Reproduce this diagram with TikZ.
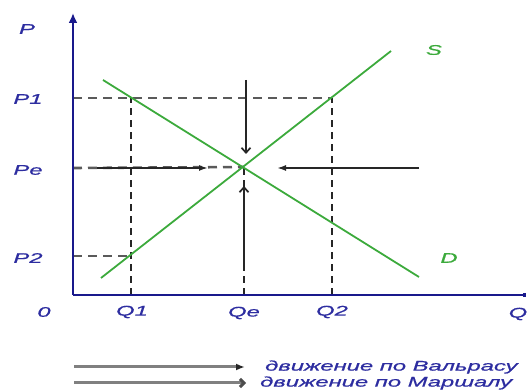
\documentclass[tikz,border=0pt]{standalone}
\usepackage{fontspec}
\newfontfamily\labfont{Liberation Sans}[FakeStretch=1.7,FakeBold=0.8]
\usetikzlibrary{arrows.meta}
\definecolor{axisblue}{RGB}{25,25,140}
\definecolor{labblue}{RGB}{45,45,160}
\definecolor{sdgreen}{RGB}{60,170,60}
\definecolor{dashgray}{RGB}{90,90,90}
\tikzset{
  lab/.style={text=labblue, font=\labfont\itshape\fontsize{14}{14}\selectfont, inner sep=0pt},
  glab/.style={lab, text=sdgreen},
  axisline/.style={draw=axisblue, line width=2pt},
  curve/.style={draw=sdgreen, line width=1.8pt},
  hdash/.style={draw=dashgray, line width=2.6pt, dash pattern=on 9pt off 6pt},
  vdash/.style={draw=black!85, line width=1.6pt, dash pattern=on 7pt off 5pt},
  walras/.style={draw=black!85, line width=1.7pt, -{Latex[length=9pt,width=6pt]}},
  marshall/.style={draw=black!85, line width=1.7pt, -{Straight Barb[length=5pt,width=9pt]}},
  legwal/.style={draw=black!50, line width=3pt, -{Latex[length=9pt,width=7pt,color=black!85]}},
  legmar/.style={draw=black!50, line width=3pt, -{Straight Barb[length=4pt,width=8pt,color=black!70]}},
}
\begin{document}
\begin{tikzpicture}[x=1pt,y=-1pt]
\useasboundingbox (0,0) rectangle (531,390);
% key points
\coordinate (O) at (73,295);
\coordinate (Ytop) at (73,13);
\coordinate (Xend) at (526,295);
\coordinate (E) at (244,167);
\coordinate (yP1) at (73,98);
\coordinate (yPe) at (73,168);
\coordinate (yP2) at (73,256);
\coordinate (aQ1) at (131,295);
\coordinate (aQe) at (244,295);
\coordinate (aQ2) at (332,295);
\coordinate (A1) at (131,98);
\coordinate (A2) at (332,98);
\coordinate (B1) at (131,256);
\coordinate (Sa) at (101,278);
\coordinate (Sb) at (391,51);
\coordinate (Da) at (103,80);
\coordinate (Db) at (419,277);
% dashed guides
\draw[hdash] (yP1) -- (A2);
\draw[hdash] (yP2) -- (B1);
\draw[hdash] (yPe) -- (E);
\draw[vdash] (aQ1) -- (A1);
\draw[vdash] (aQ2) -- (A2);
\draw[vdash] (aQe) -- (E);
% curves
\draw[curve] (Sa) -- (Sb);
\draw[curve] (Da) -- (Db);
% adjustment arrows
\coordinate (wl0) at (97,168);
\coordinate (wl1) at (208,168);
\coordinate (wr0) at (419,168);
\coordinate (wr1) at (277,168);
\coordinate (mt0) at (246,80);
\coordinate (mt1) at (246,154);
\coordinate (mb0) at (244,268);
\coordinate (mb1) at (244,186);
\draw[walras] (wl0) -- (wl1);
\draw[walras] (wr0) -- (wr1);
\draw[marshall] (mt0) -- (mt1);
\draw[marshall] (mb0) -- (mb1);
% axes
\draw[axisline, -{Latex[length=10pt,width=9pt]}] (O) -- (Ytop);
\draw[axisline, -{Square[length=3pt,width=4pt]}] (O) -- (Xend);
% labels
\node[lab] (lP) at (27,29) {P};
\node[lab] (lP1) at (28,99) {P1};
\node[lab] (lPe) at (28,170) {Pe};
\node[lab] (lP2) at (28,258) {P2};
\node[lab] (l0) at (44,312) {0};
\node[lab] (lQ1) at (132,312) {Q1};
\node[lab] (lQe) at (244,313) {Qe};
\node[lab] (lQ2) at (332,312) {Q2};
\node[lab] (lQ) at (518,314) {Q};
\node[glab] (lS) at (434,50) {S};
\node[glab] (lD) at (449,258) {D};
% legend
\coordinate (g1a) at (74,367);
\coordinate (g1b) at (245,367);
\coordinate (g2a) at (74,383);
\coordinate (g2b) at (246,383);
\draw[legwal] (g1a) -- (g1b);
\draw[legmar] (g2a) -- (g2b);
\node[lab, anchor=west] (t1) at (265,367) {движение по Вальрасу};
\node[lab, anchor=west] (t2) at (260,383) {движение по Маршалу};
\end{tikzpicture}
\end{document}
